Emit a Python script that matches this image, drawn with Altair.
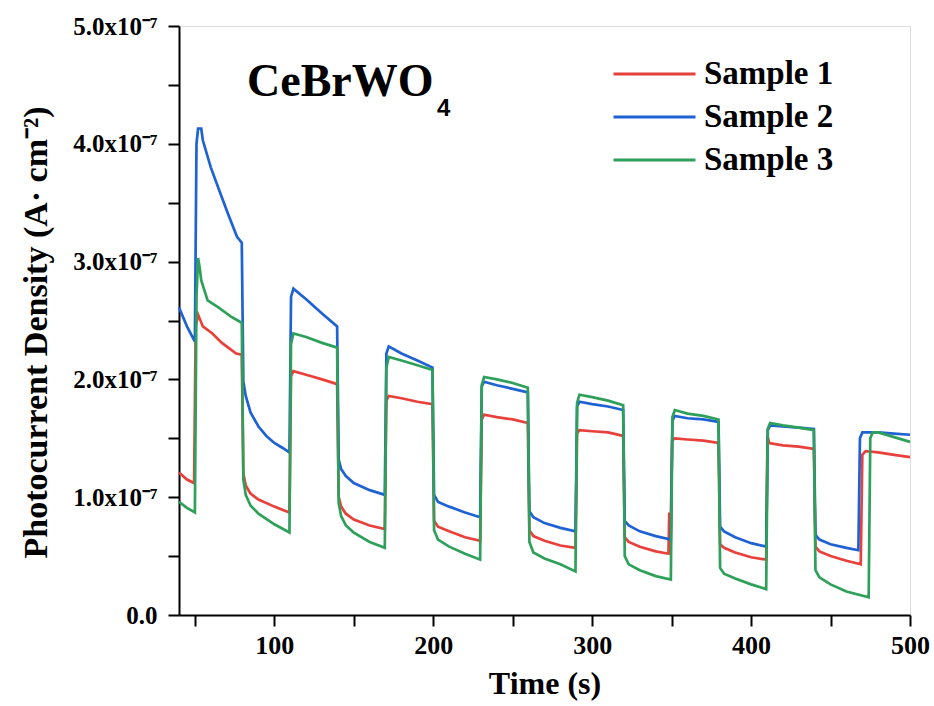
import altair as alt
import pandas as pd

# ---- data (current density in units of 1e-7 A/cm^2) ----
series_names = ["Sample 1", "Sample 2", "Sample 3"]
series_colors = ["#E8413C", "#1F62D4", "#2EA05A"]

t_s1 = [40, 45, 49.5, 50.5, 52, 55, 61, 67, 76, 79.5,
        80.5, 82, 85, 90, 100, 109.5,
        110.5, 112, 120, 130, 139.5,
        140.5, 142, 145, 150, 160, 169.5,
        170.5, 172, 180, 190, 199.5,
        200.5, 203, 210, 220, 229.5,
        230.5, 232, 240, 250, 259.5,
        260.5, 263, 270, 280, 289.5,
        290.5, 292, 300, 310, 319.5,
        320.5, 323, 330, 340, 348, 348.5, 349.2, 350.3,
        352, 360, 370, 379.5,
        380.5, 383, 390, 400, 409.5,
        410.3, 411.5, 420, 430, 439.5,
        440.5, 443, 450, 460, 469,
        470, 472, 480, 490, 500]
j_s1 = [1.21, 1.15, 1.12, 2.45, 2.55, 2.45, 2.39, 2.31, 2.22, 2.21,
        1.20, 1.10, 1.03, 0.98, 0.92, 0.87,
        2.03, 2.07, 2.04, 2.00, 1.96,
        1.00, 0.92, 0.86, 0.81, 0.76, 0.73,
        1.82, 1.86, 1.84, 1.81, 1.79,
        0.80, 0.75, 0.71, 0.66, 0.63,
        1.66, 1.70, 1.68, 1.66, 1.63,
        0.72, 0.67, 0.63, 0.59, 0.57,
        1.54, 1.57, 1.56, 1.55, 1.52,
        0.66, 0.62, 0.58, 0.54, 0.52, 0.87, 0.52, 1.48,
        1.50, 1.49, 1.48, 1.46,
        0.60, 0.57, 0.53, 0.49, 0.47,
        1.52, 1.46, 1.44, 1.43, 1.41,
        0.58, 0.54, 0.50, 0.46, 0.43,
        1.36, 1.39, 1.38, 1.36, 1.34]

t_s2 = [40, 45, 50, 51, 52, 54, 55, 60, 66, 71, 76.5, 79.5,
        80.5, 82, 85, 90, 95, 100, 105, 109.5,
        110.5, 112, 120, 130, 139.5,
        140.5, 142, 145, 150, 160, 169.5,
        170.5, 172, 180, 190, 199.5,
        200.5, 203, 210, 220, 229.5,
        230.5, 232, 240, 250, 259.5,
        260.5, 263, 270, 280, 289.5,
        290.5, 292, 300, 310, 319.5,
        320.5, 323, 330, 340, 349.5,
        350.5, 352, 360, 370, 379.5,
        380.5, 383, 390, 400, 409.5,
        410.5, 412, 420, 430, 439.5,
        440.5, 443, 450, 460, 467.5,
        468.5, 470, 480, 490, 500]
j_s2 = [2.61, 2.45, 2.32, 4.00, 4.13, 4.13, 4.03, 3.80, 3.58, 3.40, 3.21, 3.16,
        1.98, 1.86, 1.72, 1.60, 1.52, 1.46, 1.42, 1.38,
        2.70, 2.77, 2.68, 2.56, 2.45,
        1.32, 1.24, 1.18, 1.12, 1.06, 1.02,
        2.22, 2.28, 2.22, 2.16, 2.10,
        1.02, 0.96, 0.92, 0.87, 0.83,
        1.94, 1.98, 1.95, 1.92, 1.89,
        0.88, 0.83, 0.78, 0.74, 0.71,
        1.77, 1.81, 1.79, 1.77, 1.74,
        0.80, 0.76, 0.71, 0.67, 0.64,
        1.65, 1.69, 1.67, 1.66, 1.64,
        0.75, 0.71, 0.66, 0.61, 0.58,
        1.57, 1.61, 1.60, 1.59, 1.58,
        0.68, 0.64, 0.60, 0.57, 0.55,
        1.50, 1.55, 1.55, 1.54, 1.53]

t_s3 = [40, 45, 50, 51, 52, 53, 54, 58, 65, 73, 77, 79.5,
        80.5, 82, 85, 90, 100, 109.5,
        110.5, 112, 120, 130, 139.5,
        140.5, 142, 145, 150, 160, 169.5,
        170.5, 172, 180, 190, 199.5,
        200.5, 203, 210, 220, 229.5,
        230.5, 232, 240, 250, 259.5,
        260.5, 263, 270, 280, 289.5,
        290.5, 292, 300, 310, 319.5,
        320.5, 323, 330, 340, 349.5,
        350.5, 352, 360, 370, 379.5,
        380.5, 383, 390, 400, 409.5,
        410.5, 412, 420, 430, 439.5,
        440.5, 443, 450, 460, 474,
        475, 476.5, 480, 490, 500]
j_s3 = [0.96, 0.91, 0.87, 2.70, 3.03, 2.95, 2.84, 2.67, 2.61, 2.53, 2.50, 2.48,
        1.15, 1.02, 0.93, 0.86, 0.77, 0.70,
        2.30, 2.39, 2.36, 2.31, 2.27,
        0.95, 0.84, 0.76, 0.70, 0.62, 0.57,
        2.10, 2.19, 2.16, 2.12, 2.08,
        0.72, 0.64, 0.58, 0.52, 0.47,
        1.95, 2.02, 2.00, 1.97, 1.93,
        0.62, 0.53, 0.48, 0.43, 0.37,
        1.80, 1.87, 1.85, 1.82, 1.78,
        0.50, 0.43, 0.38, 0.33, 0.30,
        1.68, 1.74, 1.71, 1.69, 1.66,
        0.40, 0.35, 0.31, 0.26, 0.22,
        1.58, 1.63, 1.61, 1.59, 1.57,
        0.38, 0.32, 0.26, 0.20, 0.15,
        1.50, 1.55, 1.55, 1.51, 1.47]

x_ticks = [50, 100, 150, 200, 250, 300, 350, 400, 450, 500]
y_ticks = [0.0, 0.5e-7, 1.0e-7, 1.5e-7, 2.0e-7, 2.5e-7, 3.0e-7, 3.5e-7, 4.0e-7, 4.5e-7, 5.0e-7]

formula_main = ["CeBrWO"]
formula_sub = ["4"]

# ---- table ----
rows = []
for name, ts, js in zip(series_names, [t_s1, t_s2, t_s3], [j_s1, j_s2, j_s3]):
    for i, (t, j) in enumerate(zip(ts, js)):
        rows.append({"Time": t, "J": j * 1e-7, "Sample": name, "idx": i})
df = pd.DataFrame(rows)

SERIF = "Liberation Serif"

x_enc = alt.X(
    "Time:Q",
    scale=alt.Scale(domain=[40, 500], nice=False, zero=False),
    axis=alt.Axis(
        values=x_ticks,
        labelExpr="datum.value % 100 == 0 ? datum.label : ''",
        title="Time (s)",
        grid=False,
        domainColor="black", domainWidth=2,
        tickColor="black", tickWidth=2, tickSize=11,
        labelFont=SERIF, labelFontWeight="bold", labelFontSize=26, labelColor="black",
        labelPadding=6, labelOverlap=False, labelFlush=False,
        titleFont=SERIF, titleFontWeight="bold", titleFontSize=32, titleColor="black",
        titlePadding=10,
    ),
)

y_enc = alt.Y(
    "J:Q",
    scale=alt.Scale(domain=[0, 5e-7], nice=False, zero=True),
    axis=alt.Axis(
        values=y_ticks,
        labelExpr="round(datum.value*1e8) % 10 != 0 ? '' : (datum.value == 0 ? '0.0' : format(datum.value*1e7, '.1f') + 'x10\u207b\u2077')",
        title="Photocurrent Density (A\u00b7 cm\u207b\u00b2)",
        grid=False,
        domainColor="black", domainWidth=2,
        tickColor="black", tickWidth=2, tickSize=11,
        labelFont=SERIF, labelFontWeight="bold", labelFontSize=25, labelColor="black",
        labelPadding=11, labelOverlap=False, labelFlush=False,
        titleFont=SERIF, titleFontWeight="bold", titleFontSize=34, titleColor="black",
        titleX=-126, titleY=306,
    ),
)

lines = alt.Chart(df).mark_line(strokeWidth=2.7).encode(
    x=x_enc,
    y=y_enc,
    color=alt.Color(
        "Sample:N",
        scale=alt.Scale(domain=series_names, range=series_colors),
        legend=alt.Legend(
            title=None, orient="none", legendX=433, legendY=29,
            symbolType="stroke", symbolSize=6724, symbolStrokeWidth=3,
            clipHeight=38, rowPadding=5, labelOffset=7, padding=0,
            labelFont=SERIF, labelFontWeight="bold", labelFontSize=33,
            labelColor="black", labelLimit=400,
        ),
    ),
    order="idx:Q",
)

main_txt = alt.Chart(pd.DataFrame({"label": formula_main})).mark_text(
    font=SERIF, fontWeight="bold", fontSize=46, align="left", baseline="alphabetic", color="black"
).encode(x=alt.datum(82.8), y=alt.datum(4.41e-7), text="label:N")

sub_txt = alt.Chart(pd.DataFrame({"label": formula_sub})).mark_text(
    font="Liberation Sans", fontWeight="bold", fontSize=24, align="left", baseline="alphabetic", color="black"
).encode(x=alt.datum(202.3), y=alt.datum(4.24e-7), text="label:N")

chart = alt.layer(lines, main_txt, sub_txt).properties(
    width=731, height=589,
    autosize=alt.AutoSizeParams(type="none"),
    padding={"left": 179, "top": 26, "right": 24, "bottom": 91},
).configure_view(stroke="#9a9a9a", strokeWidth=1).configure(background="white")

chart.save("out.html", embed_options={"renderer": "svg", "actions": False})
